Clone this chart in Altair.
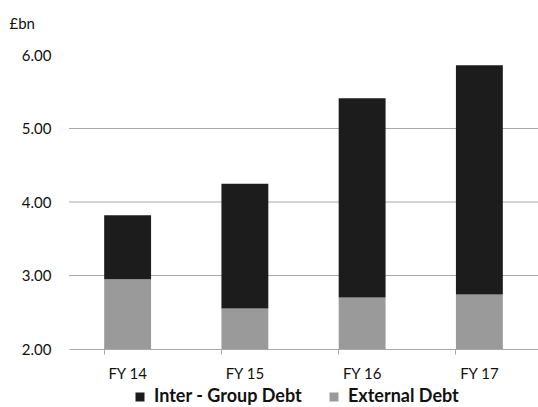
import altair as alt
import pandas as pd

years = ["FY 14", "FY 15", "FY 16", "FY 17"]
external_debt = [2.95, 2.55, 2.70, 2.74]
inter_group_debt = [0.87, 1.70, 2.71, 3.12]
series = ["Inter - Group Debt", "External Debt"]
colors = ["#1c1c1c", "#9a9a9a"]
grid_values = [3, 4, 5]
y_ticks = [2, 3, 4, 5, 6]

rows = []
for i, y in enumerate(years):
    rows.append({"year": y, "series": "External Debt", "value": external_debt[i], "ord": 0})
    rows.append({"year": y, "series": "Inter - Group Debt", "value": inter_group_debt[i], "ord": 1})
df = pd.DataFrame(rows)
grid_df = pd.DataFrame({"value": grid_values})

FONT = "Lato"

y_axis = alt.Axis(values=y_ticks, format=".2f", grid=False, domain=False,
                  ticks=False, labelPadding=18, labelFontSize=15,
                  labelFont=FONT, labelColor="#111111",
                  title="£bn", titleAngle=0, titleAlign="left",
                  titleBaseline="middle", titleX=-60, titleY=-32,
                  titleFontSize=15, titleFontWeight="normal",
                  titleFont=FONT, titleColor="#111111")
y_scale = alt.Scale(domain=[2, 6], zero=False, nice=False)

grid = alt.Chart(grid_df).mark_rule(color="#a8a8a8", strokeWidth=1).encode(
    y=alt.Y("value:Q", scale=y_scale, axis=y_axis)
)

bars = alt.Chart(df).mark_bar(clip=True).encode(
    x=alt.X("year:N", sort=years,
            scale=alt.Scale(paddingInner=0.6, paddingOuter=0.3),
            axis=alt.Axis(title=None, labelAngle=0, bandPosition=0,
                          domainColor="#a8a8a8", tickColor="#a8a8a8", tickSize=5,
                          labelPadding=12, labelFontSize=15, labelFont=FONT,
                          labelColor="#111111", grid=False)),
    y=alt.Y("value:Q", stack="zero", scale=y_scale, axis=y_axis),
    color=alt.Color("series:N",
                    scale=alt.Scale(domain=series, range=colors),
                    legend=alt.Legend(title=None, orient="none", legendX=62, legendY=333,
                                      direction="horizontal", symbolType="square",
                                      symbolSize=81, symbolStrokeWidth=0,
                                      labelFontSize=18, labelFont=FONT,
                                      labelFontWeight="bold", labelColor="#111111",
                                      columnPadding=22, symbolOffset=0, labelOffset=5)),
    order=alt.Order("ord:Q"),
)

chart = alt.layer(grid, bars).properties(
    width=469, height=294,
    background="white",
    autosize=alt.AutoSizeParams(type="none"),
    padding={"left": 69, "top": 55, "right": 0, "bottom": 58},
).configure_view(strokeWidth=0, stroke="transparent")

chart.save("out.html", embed_options={"renderer": "svg", "actions": False})
